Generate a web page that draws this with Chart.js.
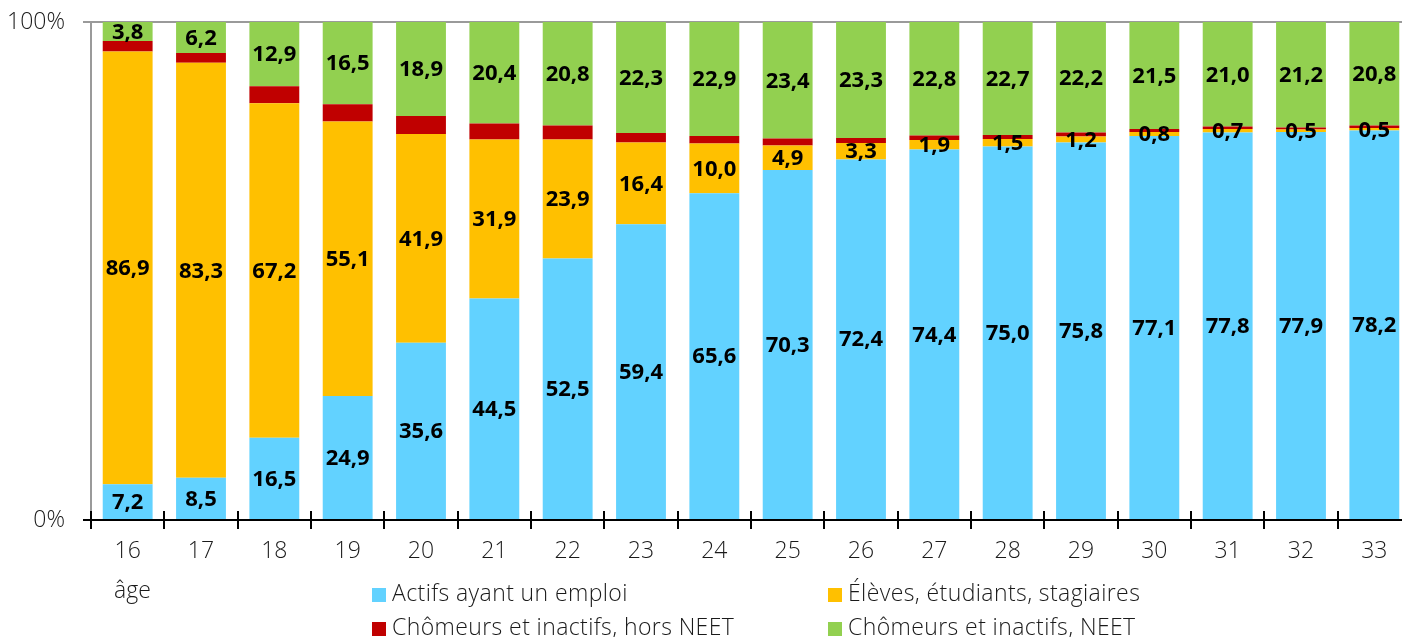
<!DOCTYPE html>
<html><head><meta charset="utf-8">
<script src="https://cdn.jsdelivr.net/npm/chart.js@4/dist/chart.umd.min.js"></script>
<style>
html,body{margin:0;padding:0;background:#fff;overflow:hidden;width:1402px;height:637px;}
#wrap{position:absolute;left:0;top:0;width:1420px;height:637px;}
.lg{position:absolute;font-family:"Open Sans",sans-serif;font-weight:300;font-size:23px;letter-spacing:0.4px;color:#1a1a1a;white-space:nowrap;line-height:26px;}
.sq{display:inline-block;width:14px;height:14px;margin-right:6px;vertical-align:-1px;}
#age{position:absolute;left:114px;top:573px;font-family:"Open Sans",sans-serif;font-weight:300;font-size:23px;color:#1a1a1a;}
</style></head><body>
<div id="wrap"><canvas id="c" width="1420" height="637"></canvas></div>
<div id="age">âge</div>
<div class="lg" style="left:372px;top:579px"><span class="sq" style="background:#62D2FF"></span>Actifs ayant un emploi</div>
<div class="lg" style="left:828px;top:579px"><span class="sq" style="background:#FFC000"></span>Élèves, étudiants, stagiaires</div>
<div class="lg" style="left:372px;top:613px"><span class="sq" style="background:#C00000"></span>Chômeurs et inactifs, hors NEET</div>
<div class="lg" style="left:828px;top:613px"><span class="sq" style="background:#92D050"></span>Chômeurs et inactifs, NEET</div>
<script>
const ages = ['16','17','18','19','20','21','22','23','24','25','26','27','28','29','30','31','32','33'];
const employed = [7.2,8.5,16.5,24.9,35.6,44.5,52.5,59.4,65.6,70.3,72.4,74.4,75.0,75.8,77.1,77.8,77.9,78.2];
const students = [86.9,83.3,67.2,55.1,41.9,31.9,23.9,16.4,10.0,4.9,3.3,1.9,1.5,1.2,0.8,0.7,0.5,0.5];
const neet = [3.8,6.2,12.9,16.5,18.9,20.4,20.8,22.3,22.9,23.4,23.3,22.8,22.7,22.2,21.5,21.0,21.2,20.8];
const nonNeet = [2.1,2.0,3.4,3.5,3.6,3.2,2.8,1.9,1.5,1.4,1.0,0.9,0.8,0.8,0.6,0.5,0.4,0.5];
const yTicks = [0,100];
const seriesNames = ['Actifs ayant un emploi','Élèves, étudiants, stagiaires','Chômeurs et inactifs, hors NEET','Chômeurs et inactifs, NEET'];
const colors = ['#62D2FF','#FFC000','#C00000','#92D050'];
const showLabel = [true,true,false,true];

const fmt = v => v.toFixed(1).replace('.', ',');

const labelPlugin = {
  id:'labels',
  afterDatasetsDraw(chart){
    const ctx = chart.ctx;
    ctx.save();
    ctx.font = 'bold 22px "Open Sans", sans-serif';
    ctx.fillStyle = '#000';
    ctx.textAlign = 'center';
    ctx.textBaseline = 'middle';
    chart.data.datasets.forEach((ds, di) => {
      if (!showLabel[di]) return;
      const meta = chart.getDatasetMeta(di);
      meta.data.forEach((bar, i) => {
        const y = (bar.y + bar.base) / 2;
        ctx.fillText(fmt(ds.data[i]), bar.x, y + 1);
      });
    });
    ctx.restore();
  },
  afterDraw(chart){
    const ctx = chart.ctx, ca = chart.chartArea;
    ctx.save();
    ctx.strokeStyle = '#000';
    ctx.lineWidth = 2;
    const n = ages.length;
    const w = (ca.right - ca.left) / n;
    for (let i = 0; i <= n; i++) {
      const x = Math.round(ca.left + i * w);
      ctx.beginPath();
      ctx.moveTo(x, ca.bottom - 9);
      ctx.lineTo(x, ca.bottom + 9);
      ctx.stroke();
    }
    ctx.beginPath();
    ctx.moveTo(ca.left - 8, ca.bottom);
    ctx.lineTo(ca.right, ca.bottom);
    ctx.stroke();
    ctx.restore();
  }
};

new Chart(document.getElementById('c'), {
  type:'bar',
  data:{
    labels: ages,
    datasets:[employed, students, nonNeet, neet].map((d,i)=>({
      label: seriesNames[i], data: d, backgroundColor: colors[i],
      borderWidth: 0, barPercentage: 0.68, categoryPercentage: 1.0
    }))
  },
  options:{
    responsive:false, animation:false,
    layout:{padding:{top:22,right:9,left:0,bottom:0}},
    plugins:{legend:{display:false}, tooltip:{enabled:false}},
    scales:{
      x:{
        stacked:true,
        grid:{display:false, drawTicks:false},
        border:{display:false},
        ticks:{font:{family:'"Open Sans", sans-serif', size:23, weight:'300'}, color:'#1a1a1a', padding:18, maxRotation:0},
        afterFit(s){ s.height = 117; s.paddingLeft = 0; s.paddingRight = 0; }
      },
      y:{
        stacked:true, min:0, max:100,
        afterBuildTicks(s){ s.ticks = yTicks.map(v=>({value:v})); },
        grid:{color:'#9a9a9a', lineWidth:2, tickLength:8, drawTicks:true},
        border:{display:true, color:'#9a9a9a', width:2},
        ticks:{callback:v=>v+'%', font:{family:'"Open Sans", sans-serif', size:23, weight:'300'}, color:'#1a1a1a', padding:18},
        afterFit(s){ s.width = 91; s.paddingTop = 0; s.paddingBottom = 0; }
      }
    }
  },
  plugins:[labelPlugin]
});
</script>
</body></html>
